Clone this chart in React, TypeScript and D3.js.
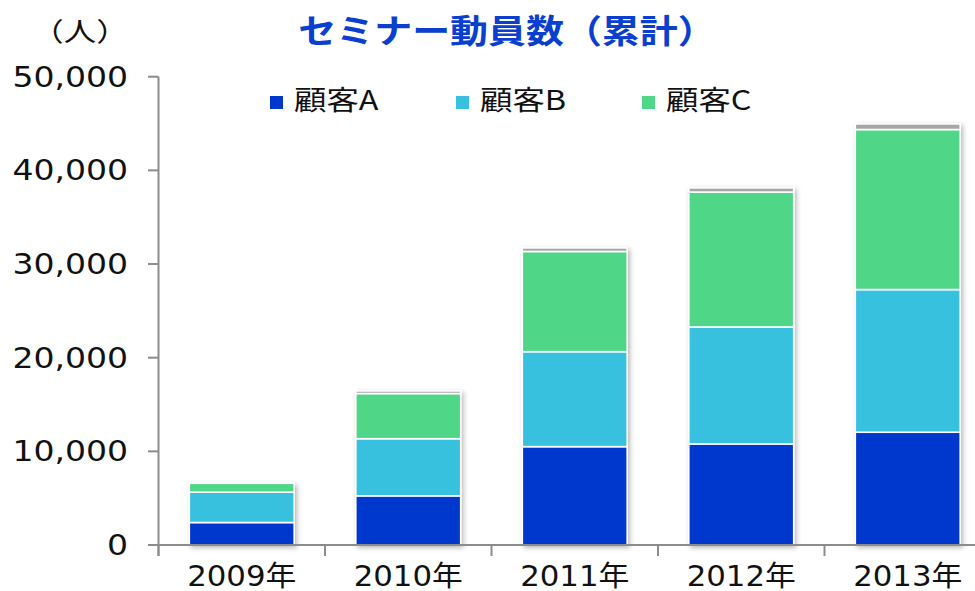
import React from 'react';
import * as d3 from 'd3';

const years = ['2009年', '2010年', '2011年', '2012年', '2013年'];
const customerA = [2400, 5250, 10500, 10790, 12040];
const customerB = [3240, 6100, 10140, 12490, 15230];
const customerC = [950, 4820, 10700, 14400, 17090];
const others = [0, 280, 380, 450, 600];
const legendNames = ['顧客A', '顧客B', '顧客C'];
const seriesKeys = ['a', 'b', 'c', 'o'];
const seriesColors = ['#0038ce', '#37c0df', '#50d687', '#a6a6a6'];
const yTicks = [0, 10000, 20000, 30000, 40000, 50000];
const titleText = 'セミナー動員数（累計）';
const unitText = '（人）';

const W = 975;
const H = 591;
const plotLeft = 158.5;
const plotBottom = 545;
const plotTop = 76.7;
const step = 166.5;

export default function App() {
  const rows = years.map((y, i) => ({
    year: y,
    a: customerA[i],
    b: customerB[i],
    c: customerC[i],
    o: others[i],
  }));
  const stacked = d3.stack<any>().keys(seriesKeys)(rows);
  const x = d3
    .scaleBand<string>()
    .domain(years)
    .range([plotLeft, plotLeft + step * years.length])
    .padding(0);
  const y = d3.scaleLinear().domain([0, 50000]).range([plotBottom, plotTop]);
  const barW = x.bandwidth() * 0.63;
  const fmt = d3.format(',');
  const font = '"DejaVu Sans", "Noto Sans CJK JP", sans-serif';
  const axisColor = '#8c8c8c';

  return (
    <svg
      width={W}
      height={H}
      style={{ position: 'absolute', left: 0, top: 0, background: '#fff' }}
      fontFamily={font}
    >
      <defs>
        <filter id="shadow" x="-20%" y="-20%" width="140%" height="140%">
          <feDropShadow dx="2" dy="2" stdDeviation="2.5" floodColor="#000" floodOpacity="0.28" />
        </filter>
      </defs>
      <rect x={0} y={0} width={W} height={H} fill="#fff" />

      {/* title */}
      <text
        transform={`translate(507,43) scale(1.15,1)`}
        textAnchor="middle"
        fontFamily='"Noto Sans CJK JP", sans-serif'
        fontWeight="bold"
        fontSize={33}
        fill="#0a3fcf"
      >
        {titleText}
      </text>
      <text
        transform="translate(80,41) scale(1.25,1)"
        textAnchor="middle"
        fontFamily='"Noto Sans CJK JP", sans-serif'
        fontSize={26}
        fill="#111"
      >
        {unitText}
      </text>

      {/* legend */}
      {legendNames.map((n, i) => (
        <g key={n} transform={`translate(${270 + i * 186},0)`}>
          <rect x={0} y={96} width={13} height={13} fill={seriesColors[i]} />
          <text
            transform="translate(24,110) scale(1.2,1)"
            fontFamily='"Noto Sans CJK JP", sans-serif'
            fontSize={27}
            fill="#111"
          >
            {n}
          </text>
        </g>
      ))}

      {/* bars */}
      {years.map((yr, i) => {
        const x0 = (x(yr) as number) + (x.bandwidth() - barW) / 2;
        return (
          <g key={yr} filter="url(#shadow)">
            {stacked.map((s, k) => {
              const d = s[i];
              const h = y(d[0]) - y(d[1]);
              if (h <= 0) return null;
              return (
                <rect
                  key={k}
                  x={x0}
                  y={y(d[1])}
                  width={barW}
                  height={h}
                  fill={seriesColors[k]}
                  stroke="#fff"
                  strokeWidth={1.6}
                />
              );
            })}
          </g>
        );
      })}

      {/* y axis */}
      <line x1={plotLeft} x2={plotLeft} y1={plotTop} y2={plotBottom + 11} stroke={axisColor} strokeWidth={2} />
      {yTicks.map((t) => (
        <g key={t}>
          <line x1={148} x2={plotLeft} y1={y(t)} y2={y(t)} stroke={axisColor} strokeWidth={2} />
          <text
            transform={`translate(128,${y(t) + 10}) scale(1.18,1)`}
            textAnchor="end"
            fontSize={28}
            fill="#111"
          >
            {fmt(t)}
          </text>
        </g>
      ))}

      {/* x axis */}
      <line x1={148} x2={W} y1={plotBottom} y2={plotBottom} stroke={axisColor} strokeWidth={2} />
      {years.map((yr) => (
        <g key={yr}>
          <line
            x1={x(yr) as number}
            x2={x(yr) as number}
            y1={plotBottom}
            y2={plotBottom + 11}
            stroke={axisColor}
            strokeWidth={2}
          />
          <text
            transform={`translate(${(x(yr) as number) + x.bandwidth() / 2},585.5) scale(1.1,1)`}
            textAnchor="middle"
            fontSize={28}
            fill="#111"
          >
            {yr}
          </text>
        </g>
      ))}
    </svg>
  );
}
